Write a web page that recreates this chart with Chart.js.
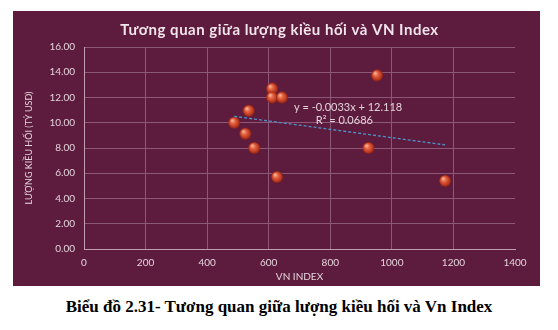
<!DOCTYPE html>
<html lang="vi">
<head>
<meta charset="utf-8">
<title>Tương quan giữa lượng kiều hối và VN Index</title>
<script src="https://cdn.jsdelivr.net/npm/chart.js@4/dist/chart.umd.min.js"></script>
<style>
  html, body { margin: 0; padding: 0; background: #fff; width: 558px; height: 330px; overflow: hidden; }
  #box { position: absolute; left: 13px; top: 11px; width: 527px; height: 275px; background: #5d1b3d; }
  #chart { display: block; }
  #caption {
    position: absolute; left: 0; top: 297px; width: 558px; text-align: center;
    font: bold 17px "Liberation Serif", "Times New Roman", serif; color: #000;
  }
</style>
</head>
<body>
<div id="box"><canvas id="chart" width="527" height="275"></canvas></div>
<div id="caption">Biểu đồ 2.31- Tương quan giữa lượng kiều hối và Vn Index</div>
<script>
// VN Index vs remittance volume (billion USD)
const vnIndex = [488, 535, 524, 553, 611, 611, 643, 627, 952, 924, 1173];
const remittance = [10.0, 10.95, 9.13, 8.0, 12.7, 12.0, 12.0, 5.7, 13.75, 8.0, 5.4];
const trendSlope = -0.0033;
const trendIntercept = 12.118;
const rSquared = 0.0686;

const chartTitle = "Tương quan giữa lượng kiều hối và VN Index";
const textColor = "#e3d3db";
const gridColor = "#8d5878";
const axisColor = "#c29db0";

// little shaded ball used as the point marker
function ballMarker(r) {
  const c = document.createElement("canvas");
  c.width = c.height = r * 2 + 2;
  const ctx = c.getContext("2d");
  const cx = r + 1, cy = r + 1;
  const g = ctx.createRadialGradient(cx - r * 0.35, cy - r * 0.4, r * 0.1, cx, cy, r);
  g.addColorStop(0, "#f6b199");
  g.addColorStop(0.35, "#e4643f");
  g.addColorStop(0.8, "#b8351f");
  g.addColorStop(1, "#7e2119");
  ctx.fillStyle = g;
  ctx.beginPath();
  ctx.arc(cx, cy, r, 0, Math.PI * 2);
  ctx.fill();
  return c;
}

const xMin = Math.min(...vnIndex);
const xMax = Math.max(...vnIndex);
const trendPoints = [xMin, xMax].map((x) => ({ x, y: trendSlope * x + trendIntercept }));

// spaced-out heading drawn by hand (the title plugin has no letter spacing)
const spacedTitle = {
  id: "spacedTitle",
  afterDraw(chart) {
    const ctx = chart.ctx;
    ctx.save();
    ctx.fillStyle = "#f1e4ea";
    ctx.font = "bold 15px Lato, sans-serif";
    ctx.letterSpacing = "0.5px";
    ctx.textAlign = "center";
    ctx.textBaseline = "middle";
    ctx.fillText(chartTitle, chart.width / 2 + 3, 19);
    ctx.restore();
  },
};

// equation + R² text next to the trend line
const trendLabel = {
  id: "trendLabel",
  afterDatasetsDraw(chart) {
    const { ctx, scales } = chart;
    const left1 = scales.x.getPixelForValue(682);
    const left2 = scales.x.getPixelForValue(753);
    const py = scales.y.getPixelForValue(11.2);
    ctx.save();
    ctx.fillStyle = textColor;
    ctx.font = "11px Lato, sans-serif";
    ctx.textAlign = "left";
    ctx.textBaseline = "middle";
    const sign = trendIntercept >= 0 ? "+" : "-";
    ctx.fillText(`y = ${trendSlope.toFixed(4)}x ${sign} ${Math.abs(trendIntercept).toFixed(3)}`, left1, py);
    ctx.fillText(`R² = ${rSquared.toFixed(4)}`, left2, py + 13);
    ctx.restore();
  },
};

new Chart(document.getElementById("chart"), {
  type: "scatter",
  data: {
    datasets: [
      {
        type: "line",
        label: "Trend",
        data: trendPoints,
        borderColor: "#4e93c9",
        borderWidth: 1.3,
        borderDash: [3, 2],
        pointRadius: 0,
        fill: false,
      },
      {
        label: "Lượng kiều hối",
        data: vnIndex.map((x, i) => ({ x, y: remittance[i] })),
        pointStyle: ballMarker(6),
        pointRadius: 6,
      },
    ],
  },
  options: {
    responsive: false,
    animation: false,
    layout: { padding: { left: 0, right: 25, top: 36, bottom: 0 } },
    plugins: {
      legend: { display: false },
      tooltip: { enabled: false },
      title: { display: false },
    },
    scales: {
      x: {
        type: "linear",
        min: 0,
        max: 1400,
        ticks: {
          stepSize: 200,
          color: textColor,
          font: { family: "Lato", size: 10 },
          padding: 8,
          maxRotation: 0,
          callback: (v) => String(v),
        },
        grid: {
          color: (c) => (c.tick && c.tick.value === 1400 ? "rgba(0,0,0,0)" : gridColor),
          drawTicks: false,
        },
        border: { color: axisColor, width: 1 },
        title: {
          display: true,
          text: "VN INDEX",
          color: textColor,
          font: { family: "Lato", size: 10 },
          padding: { top: 0, bottom: 3 },
        },
        afterFit(scale) { scale.height = 37; },
      },
      y: {
        min: 0,
        max: 16,
        ticks: {
          stepSize: 2,
          color: textColor,
          font: { family: "Lato", size: 10 },
          padding: 9,
          callback: (v) => v.toFixed(2),
        },
        grid: { color: gridColor, drawTicks: false },
        border: { color: axisColor, width: 1 },
        title: {
          display: true,
          text: "LƯỢNG KIỀU HỐI (TỶ USD)",
          color: textColor,
          font: { family: "Lato", size: 9 },
          padding: { top: 11, bottom: 0 },
        },
        afterFit(scale) { scale.width = 71; },
      },
    },
  },
  plugins: [trendLabel, spacedTitle],
});
</script>
</body>
</html>
